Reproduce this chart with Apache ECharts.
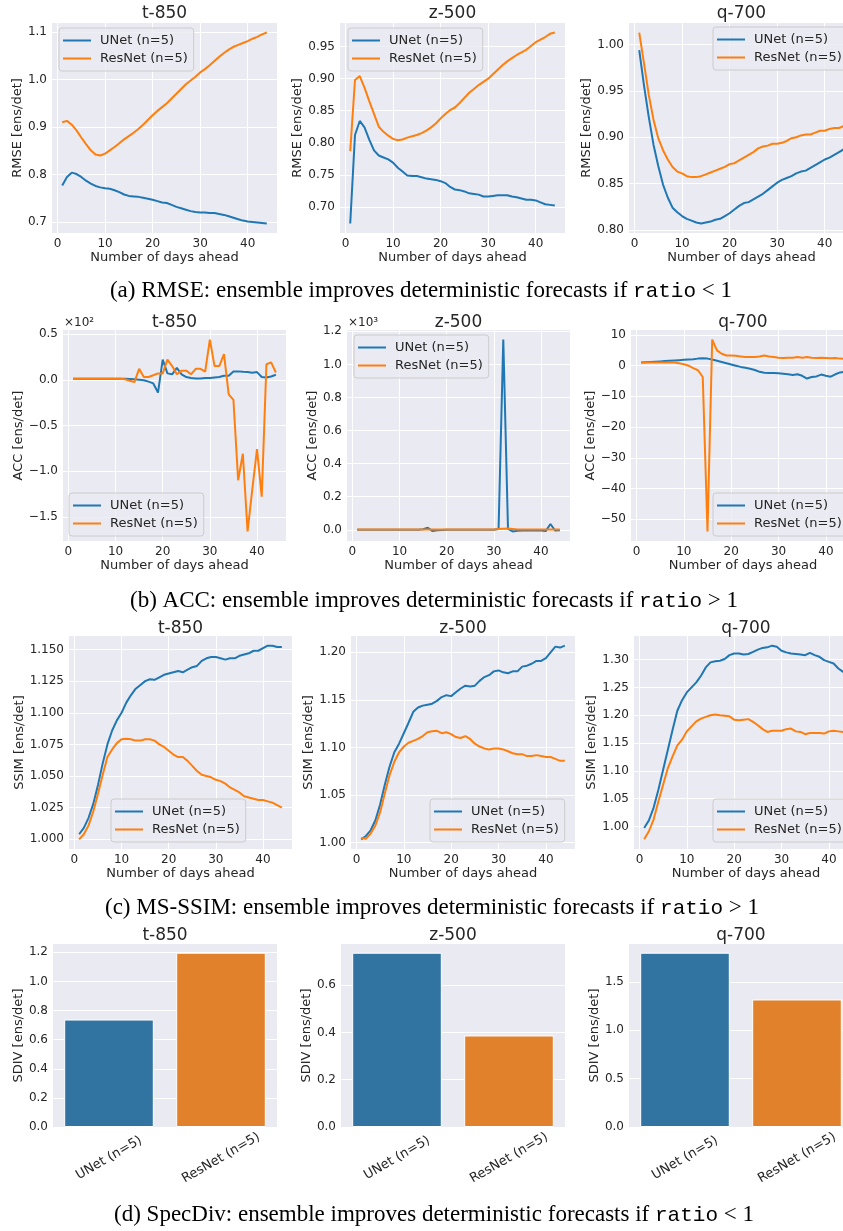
<!DOCTYPE html>
<html>
<head>
<meta charset="utf-8">
<script src="https://cdn.jsdelivr.net/npm/echarts@6/dist/echarts.min.js"></script>
<style>
html, body { margin: 0; padding: 0; background: #fff; }
#chart { width: 843px; height: 1231px; }
</style>
</head>
<body>
<div id="chart"></div>
<script>
// lead time in days
const days = [1, 2, 3, 4, 5, 6, 7, 8, 9, 10, 11, 12, 13, 14, 15, 16, 17, 18, 19, 20, 21, 22,
  23, 24, 25, 26, 27, 28, 29, 30, 31, 32, 33, 34, 35, 36, 37, 38, 39, 40, 41, 42, 43, 44]
const dayTicks = [0, 10, 20, 30, 40]
const models = ['UNet (n=5)', 'ResNet (n=5)']

// (a) RMSE
const rmseT850Unet = [0.777, 0.795, 0.804, 0.801, 0.795, 0.787, 0.781, 0.776, 0.773, 0.771, 0.770, 0.767, 0.763, 0.758, 0.755, 0.754, 0.753, 0.751, 0.749, 0.747, 0.744, 0.741, 0.740, 0.736, 0.732, 0.729, 0.726, 0.723, 0.721, 0.720, 0.720, 0.719, 0.719, 0.717, 0.715, 0.712, 0.709, 0.706, 0.703, 0.701, 0.700, 0.699, 0.698, 0.697]
const rmseT850Resnet = [0.910, 0.913, 0.905, 0.893, 0.878, 0.864, 0.851, 0.842, 0.840, 0.844, 0.851, 0.858, 0.866, 0.874, 0.881, 0.888, 0.896, 0.905, 0.915, 0.925, 0.934, 0.942, 0.950, 0.960, 0.970, 0.980, 0.990, 0.998, 1.006, 1.015, 1.022, 1.030, 1.039, 1.048, 1.056, 1.063, 1.069, 1.073, 1.077, 1.081, 1.086, 1.090, 1.095, 1.099]
const rmseZ500Unet = [0.674, 0.812, 0.834, 0.824, 0.805, 0.788, 0.780, 0.777, 0.774, 0.769, 0.761, 0.755, 0.749, 0.748, 0.748, 0.746, 0.744, 0.743, 0.742, 0.740, 0.737, 0.731, 0.727, 0.726, 0.724, 0.721, 0.720, 0.719, 0.716, 0.716, 0.717, 0.718, 0.718, 0.718, 0.716, 0.715, 0.713, 0.711, 0.711, 0.710, 0.707, 0.704, 0.703, 0.702]
const rmseZ500Resnet = [0.787, 0.898, 0.904, 0.886, 0.865, 0.845, 0.825, 0.817, 0.811, 0.806, 0.804, 0.805, 0.808, 0.810, 0.812, 0.815, 0.819, 0.824, 0.830, 0.838, 0.845, 0.851, 0.855, 0.862, 0.870, 0.878, 0.884, 0.890, 0.895, 0.900, 0.907, 0.914, 0.921, 0.927, 0.932, 0.937, 0.941, 0.945, 0.951, 0.957, 0.961, 0.965, 0.970, 0.972]
const rmseQ700Unet = [0.994, 0.956, 0.922, 0.892, 0.869, 0.849, 0.835, 0.824, 0.819, 0.815, 0.812, 0.810, 0.808, 0.807, 0.808, 0.809, 0.811, 0.812, 0.815, 0.818, 0.822, 0.826, 0.829, 0.830, 0.833, 0.836, 0.839, 0.843, 0.847, 0.851, 0.854, 0.856, 0.858, 0.861, 0.863, 0.864, 0.867, 0.870, 0.873, 0.876, 0.878, 0.881, 0.884, 0.887]
const rmseQ700Resnet = [1.013, 0.980, 0.946, 0.919, 0.899, 0.886, 0.876, 0.868, 0.863, 0.861, 0.858, 0.857, 0.857, 0.858, 0.860, 0.862, 0.864, 0.866, 0.868, 0.871, 0.872, 0.875, 0.878, 0.881, 0.884, 0.888, 0.890, 0.891, 0.893, 0.893, 0.894, 0.896, 0.899, 0.900, 0.902, 0.903, 0.903, 0.905, 0.907, 0.907, 0.909, 0.910, 0.910, 0.912]
const rmseT850Ticks = [0.7, 0.8, 0.9, 1.0, 1.1]
const rmseZ500Ticks = [0.70, 0.75, 0.80, 0.85, 0.90, 0.95]
const rmseQ700Ticks = [0.80, 0.85, 0.90, 0.95, 1.00]

// (b) ACC
const accT850Unet = [1, 1, 1, 1, 1, 1, 1, 1, 1, 1, 1, 1, 0.8, 0.5, 0, -0.5, -2, -4, -14, 22, 7, 6, 13, 6, 3, 2, 1.5, 1.5, 2, 2, 2.5, 3, 4.4, 4.4, 9, 9.2, 8.8, 8.5, 7.7, 8.4, 3, 2.5, 3.6, 5.5]
const accT850Resnet = [1.2, 1.2, 1.2, 1.2, 1.2, 1.2, 1.2, 1.2, 1.2, 1.1, 1, 0.5, -1, -2.5, 12, 3, 3, 5, 7, 7, 22, 15, 6, 10, 10, 6, 12, 12, 9, 44, 15, 15, 28, -16, -22, -110, -81, -166, -120, -76, -128, 17, 19, 8]
const accZ500Unet = [0.5, 0.5, 0.5, 0.5, 0.5, 0.5, 0.5, 0.5, 0.5, 0.5, 0.5, 0.5, 0.5, 0.5, 3, 12, -8, -3, -1, 0.5, 0.5, 0.5, 0.5, 0.5, 0.5, 0.5, 0.5, 0.5, 0.5, 0.5, 4, 1150, 5, -10, -6, -4, -4, -4, -4, -5, -8, 35, -5, -3]
const accZ500Resnet = [1, 1, 1, 1, 1, 1, 1, 1, 1, 1, 1, 1, 1, 1, 1, 2, 2, 2, 2, 2, 2, 2, 2, 2, 2, 2, 2, 2, 2, 2, 4, 6, 8, 5, 2, 2, 2, 2, 2, 2, 2, 2, 2, 2]
const accQ700Unet = [1.0, 1.1, 1.2, 1.3, 1.4, 1.5, 1.6, 1.7, 1.8, 1.9, 2.0, 2.1, 2.3, 2.4, 2.3, 2.0, 1.6, 1.2, 0.8, 0.4, 0.0, -0.4, -0.7, -1.0, -1.4, -2.0, -2.3, -2.4, -2.4, -2.5, -2.6, -2.8, -3.0, -2.8, -3.3, -4.2, -3.7, -3.5, -2.9, -3.3, -3.6, -2.8, -2.2, -2.0]
const accQ700Resnet = [1.0, 1.0, 1.0, 1.0, 1.0, 1.0, 1.0, 1.0, 0.8, 0.5, 0.0, -0.8, -1.5, -3.7, -54, 8.5, 5.0, 3.9, 3.3, 3.3, 3.2, 3.0, 2.8, 2.8, 2.8, 3.0, 3.3, 3.0, 2.8, 2.6, 2.5, 2.6, 2.6, 2.8, 2.6, 2.8, 2.6, 2.5, 2.6, 2.5, 2.4, 2.5, 2.3, 2.2]
const accT850Ticks = [-150, -100, -50, 0, 50]
const accZ500Ticks = [0, 200, 400, 600, 800, 1000, 1200]
const accQ700Ticks = [-50, -40, -30, -20, -10, 0, 10]

// (c) MS-SSIM
const ssimT850Unet = [1.004, 1.009, 1.017, 1.028, 1.043, 1.060, 1.075, 1.086, 1.094, 1.100, 1.108, 1.114, 1.119, 1.122, 1.125, 1.1265, 1.126, 1.128, 1.130, 1.131, 1.132, 1.133, 1.132, 1.134, 1.136, 1.137, 1.141, 1.143, 1.144, 1.144, 1.143, 1.142, 1.143, 1.143, 1.145, 1.146, 1.147, 1.149, 1.149, 1.151, 1.153, 1.153, 1.152, 1.152]
const ssimT850Resnet = [1.000, 1.004, 1.011, 1.022, 1.036, 1.051, 1.065, 1.071, 1.076, 1.079, 1.0795, 1.079, 1.078, 1.078, 1.079, 1.079, 1.078, 1.075, 1.073, 1.070, 1.067, 1.065, 1.065, 1.062, 1.058, 1.054, 1.051, 1.050, 1.049, 1.047, 1.046, 1.044, 1.041, 1.039, 1.037, 1.034, 1.033, 1.032, 1.031, 1.031, 1.030, 1.029, 1.027, 1.025]
const ssimZ500Unet = [1.0035, 1.007, 1.013, 1.0235, 1.040, 1.061, 1.080, 1.095, 1.104, 1.115, 1.126, 1.1375, 1.142, 1.144, 1.145, 1.146, 1.149, 1.153, 1.155, 1.154, 1.158, 1.162, 1.165, 1.164, 1.165, 1.170, 1.174, 1.176, 1.180, 1.181, 1.179, 1.178, 1.180, 1.180, 1.185, 1.186, 1.188, 1.191, 1.191, 1.194, 1.200, 1.206, 1.205, 1.207]
const ssimZ500Resnet = [1.005, 1.004, 1.0095, 1.018, 1.032, 1.052, 1.071, 1.085, 1.095, 1.101, 1.105, 1.107, 1.109, 1.112, 1.116, 1.117, 1.1175, 1.115, 1.116, 1.114, 1.111, 1.110, 1.112, 1.109, 1.104, 1.101, 1.099, 1.098, 1.099, 1.099, 1.098, 1.096, 1.094, 1.093, 1.093, 1.091, 1.091, 1.092, 1.091, 1.090, 1.090, 1.088, 1.086, 1.086]
const ssimQ700Unet = [0.9975, 1.011, 1.034, 1.066, 1.102, 1.138, 1.174, 1.208, 1.227, 1.241, 1.250, 1.259, 1.271, 1.286, 1.295, 1.297, 1.298, 1.301, 1.308, 1.311, 1.311, 1.309, 1.310, 1.314, 1.318, 1.321, 1.322, 1.325, 1.323, 1.316, 1.313, 1.311, 1.310, 1.309, 1.308, 1.312, 1.308, 1.305, 1.299, 1.296, 1.293, 1.284, 1.278, 1.277]
const ssimQ700Resnet = [0.977, 0.9915, 1.013, 1.045, 1.075, 1.105, 1.126, 1.146, 1.156, 1.171, 1.180, 1.189, 1.194, 1.197, 1.200, 1.2015, 1.200, 1.199, 1.198, 1.192, 1.191, 1.192, 1.193, 1.188, 1.182, 1.175, 1.170, 1.172, 1.172, 1.172, 1.175, 1.176, 1.171, 1.170, 1.166, 1.168, 1.168, 1.168, 1.167, 1.171, 1.172, 1.171, 1.170, 1.168]
const ssimT850Ticks = [1.000, 1.025, 1.050, 1.075, 1.100, 1.125, 1.150]
const ssimZ500Ticks = [1.00, 1.05, 1.10, 1.15, 1.20]
const ssimQ700Ticks = [1.00, 1.05, 1.10, 1.15, 1.20, 1.25, 1.30]

// (d) SpecDiv, [UNet, ResNet]
const sdivT850 = [0.738, 1.197]
const sdivZ500 = [0.737, 0.387]
const sdivQ700 = [1.80, 1.317]
const sdivT850Ticks = [0, 0.2, 0.4, 0.6, 0.8, 1.0, 1.2]
const sdivZ500Ticks = [0, 0.2, 0.4, 0.6]
const sdivQ700Ticks = [0, 0.5, 1.0, 1.5]

const BLUE = '#1f77b4'
const ORANGE = '#ff7f0e'
const BAR_COLORS = ['#3274a1', '#e1812c']
const TEXT = '#262626'
const FONT = 'DejaVu Sans'

const minus = s => s.replace('-', '\u2212')

const linePanels = [
  { title: 't-850', yName: 'RMSE [ens/det]', unet: rmseT850Unet, resnet: rmseT850Resnet, ticks: rmseT850Ticks, fmt: v => v.toFixed(1), box: [52, 23, 225, 210], yGap: 27, legendAt: [59, 28] },
  { title: 'z-500', yName: 'RMSE [ens/det]', unet: rmseZ500Unet, resnet: rmseZ500Resnet, ticks: rmseZ500Ticks, fmt: v => v.toFixed(2), box: [340, 23, 225, 210], yGap: 35, legendAt: [348, 28] },
  { title: 'q-700', yName: 'RMSE [ens/det]', unet: rmseQ700Unet, resnet: rmseQ700Resnet, ticks: rmseQ700Ticks, fmt: v => v.toFixed(2), box: [629, 23, 225, 210], yGap: 35, legendAt: [713, 27] },
  { title: 't-850', yName: 'ACC [ens/det]', unet: accT850Unet, resnet: accT850Resnet, ticks: accT850Ticks, fmt: v => (v / 100).toFixed(1), box: [63, 330, 223, 211], yGap: 36, legendAt: [69, 493] },
  { title: 'z-500', yName: 'ACC [ens/det]', unet: accZ500Unet, resnet: accZ500Resnet, ticks: accZ500Ticks, fmt: v => (v / 1000).toFixed(1), box: [347, 330, 223, 211], yGap: 27, legendAt: [354, 335] },
  { title: 'q-700', yName: 'ACC [ens/det]', unet: accQ700Unet, resnet: accQ700Resnet, ticks: accQ700Ticks, fmt: v => v.toFixed(0), box: [631, 330, 224, 211], yGap: 33, legendAt: [713, 493] },
  { title: 't-850', yName: 'SSIM [ens/det]', unet: ssimT850Unet, resnet: ssimT850Resnet, ticks: ssimT850Ticks, fmt: v => v.toFixed(3), box: [69, 636, 223, 213], yGap: 43, legendAt: [111, 799] },
  { title: 'z-500', yName: 'SSIM [ens/det]', unet: ssimZ500Unet, resnet: ssimZ500Resnet, ticks: ssimZ500Ticks, fmt: v => v.toFixed(2), box: [351, 636, 224, 213], yGap: 34, legendAt: [430, 799] },
  { title: 'q-700', yName: 'SSIM [ens/det]', unet: ssimQ700Unet, resnet: ssimQ700Resnet, ticks: ssimQ700Ticks, fmt: v => v.toFixed(2), box: [634, 636, 224, 213], yGap: 35, legendAt: [713, 799] }
]

const barPanels = [
  { title: 't-850', values: sdivT850, ticks: sdivT850Ticks, box: [53, 944, 224, 183], yGap: 27 },
  { title: 'z-500', values: sdivZ500, ticks: sdivZ500Ticks, box: [341, 944, 224, 183], yGap: 26 },
  { title: 'q-700', values: sdivQ700, ticks: sdivQ700Ticks, box: [629, 944, 224, 183], yGap: 27 }
]

const titleY = { 23: 14, 330: 323, 636: 629, 944: 936 }

const captions = [
  { text: '(a) RMSE: ensemble improves deterministic forecasts if {m|ratio} < 1', x: 421, y: 291 },
  { text: '(b) ACC: ensemble improves deterministic forecasts if {m|ratio} > 1', x: 434, y: 601 },
  { text: '(c) MS-SSIM: ensemble improves deterministic forecasts if {m|ratio} > 1', x: 432, y: 908 },
  { text: '(d) SpecDiv: ensemble improves deterministic forecasts if {m|ratio} < 1', x: 434, y: 1215 }
]

const tickLabel = { color: TEXT, fontFamily: FONT, fontSize: 12 }
const nameStyle = { color: TEXT, fontFamily: FONT, fontSize: 13 }
const gridLine = { show: true, lineStyle: { color: '#ffffff', width: 1 } }

function makeGrid(box) {
  return {
    left: box[0], top: box[1], width: box[2], height: box[3],
    show: true, backgroundColor: '#eaeaf2', borderWidth: 0,
    containLabel: false, outerBoundsMode: 'none'
  }
}

function makeTitle(text, box) {
  return {
    type: 'text',
    x: box[0] + box[2] / 2,
    y: titleY[box[1]],
    style: {
      text: text, fill: TEXT, fontFamily: FONT, fontSize: 17,
      align: 'center', verticalAlign: 'middle', textAlign: 'center', textVerticalAlign: 'middle'
    }
  }
}

const grid = []
const xAxis = []
const yAxis = []
const series = []
const legend = []
const graphic = []

linePanels.forEach((p, i) => {
  grid.push(makeGrid(p.box))
  xAxis.push({
    type: 'value', gridIndex: i,
    min: e => e.min - 0.05 * (e.max - e.min),
    max: e => e.max + 0.05 * (e.max - e.min),
    name: 'Number of days ahead', nameLocation: 'middle', nameGap: 17, nameTextStyle: nameStyle,
    axisLine: { show: false },
    axisTick: { show: false, customValues: dayTicks },
    axisLabel: Object.assign({ customValues: dayTicks, margin: 5 }, tickLabel),
    splitLine: gridLine
  })
  yAxis.push({
    type: 'value', gridIndex: i,
    min: e => e.min - 0.05 * (e.max - e.min),
    max: e => e.max + 0.05 * (e.max - e.min),
    name: p.yName, nameLocation: 'middle', nameGap: p.yGap, nameTextStyle: nameStyle,
    axisLine: { show: false },
    axisTick: { show: false, customValues: p.ticks },
    axisLabel: Object.assign({ customValues: p.ticks, margin: 5, formatter: v => minus(p.fmt(v)) }, tickLabel),
    splitLine: gridLine
  })
  ;[[models[0], p.unet, BLUE], [models[1], p.resnet, ORANGE]].forEach(([name, vals, color]) => {
    series.push({
      type: 'line', name: name, xAxisIndex: i, yAxisIndex: i,
      data: days.map((d, k) => [d, vals[k]]),
      symbol: 'none', showSymbol: false, clip: true,
      lineStyle: { color: color, width: 2 }, itemStyle: { color: color }
    })
  })
  legend.push({
    data: models, orient: 'vertical',
    left: p.legendAt[0], top: p.legendAt[1],
    icon: 'rect', itemWidth: 28, itemHeight: 2, itemGap: 5,
    padding: [6, 6, 6, 4],
    backgroundColor: 'rgba(234,234,242,0.8)', borderColor: '#cccccc', borderWidth: 1, borderRadius: 3,
    selectedMode: false,
    textStyle: { color: TEXT, fontFamily: FONT, fontSize: 13, padding: [0, 0, 0, 4] }
  })
  graphic.push(makeTitle(p.title, p.box))
})

barPanels.forEach((p, j) => {
  const i = linePanels.length + j
  grid.push(makeGrid(p.box))
  xAxis.push({
    type: 'category', gridIndex: i, data: models,
    axisLine: { show: false }, axisTick: { show: false },
    axisLabel: Object.assign({}, tickLabel, { fontSize: 13, rotate: 30, interval: 0, align: 'center', verticalAlign: 'middle', margin: 31 }),
    splitLine: { show: false }
  })
  yAxis.push({
    type: 'value', gridIndex: i,
    min: 0, max: e => e.max * 1.05,
    name: 'SDIV [ens/det]', nameLocation: 'middle', nameGap: p.yGap, nameTextStyle: nameStyle,
    axisLine: { show: false },
    axisTick: { show: false, customValues: p.ticks },
    axisLabel: Object.assign({ customValues: p.ticks, margin: 5, formatter: v => v.toFixed(1) }, tickLabel),
    splitLine: gridLine
  })
  series.push({
    type: 'bar', xAxisIndex: i, yAxisIndex: i, barWidth: '80%',
    data: p.values.map((v, k) => ({ value: v, itemStyle: { color: BAR_COLORS[k] } })),
    itemStyle: { borderColor: '#ffffff', borderWidth: 1 }
  })
  graphic.push(makeTitle(p.title, p.box))
})

// offset texts of the ACC panels
graphic.push({ type: 'text', x: 64, y: 323, style: { text: '\u00d710\u00b2', fill: TEXT, fontFamily: FONT, fontSize: 12, align: 'left', verticalAlign: 'middle', textAlign: 'left', textVerticalAlign: 'middle' } })
graphic.push({ type: 'text', x: 348, y: 323, style: { text: '\u00d710\u00b3', fill: TEXT, fontFamily: FONT, fontSize: 12, align: 'left', verticalAlign: 'middle', textAlign: 'left', textVerticalAlign: 'middle' } })

captions.forEach(c => {
  graphic.push({
    type: 'text', x: c.x, y: c.y,
    style: {
      text: c.text, fill: '#000', fontFamily: 'Liberation Serif', fontSize: 23,
      align: 'center', verticalAlign: 'middle', textAlign: 'center', textVerticalAlign: 'middle',
      rich: { m: { fontFamily: 'Liberation Mono', fontSize: 21, fill: '#000' } }
    }
  })
})

const chart = echarts.init(document.getElementById('chart'), null, { renderer: 'canvas' })
chart.setOption({
  animation: false,
  backgroundColor: '#ffffff',
  grid, xAxis, yAxis, series, legend, graphic
})
</script>
</body>
</html>
